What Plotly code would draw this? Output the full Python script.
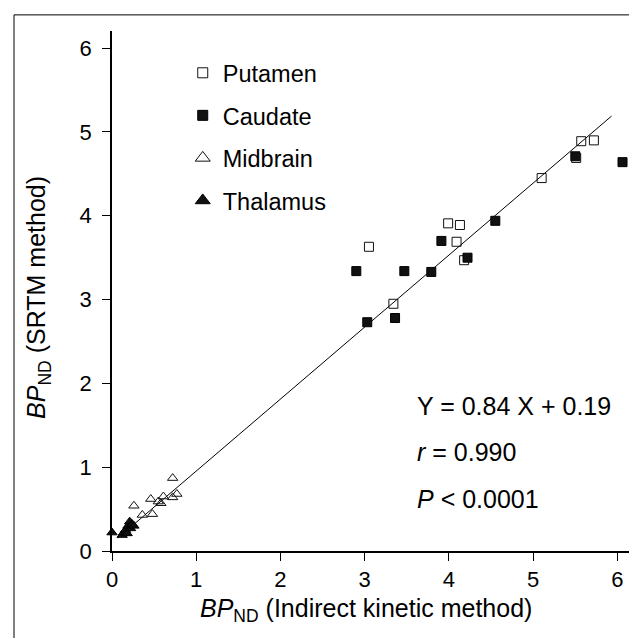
import plotly.graph_objects as go

FONT = "Liberation Sans, Arial, Helvetica, sans-serif"

# ---- data ----
putamen_x = [3.05, 3.34, 3.99, 4.13, 4.09, 4.18, 5.10, 5.51, 5.57, 5.72]
putamen_y = [3.63, 2.95, 3.91, 3.89, 3.69, 3.47, 4.45, 4.69, 4.89, 4.90]

caudate_x = [2.90, 3.03, 3.36, 3.47, 3.79, 3.91, 4.22, 4.55, 5.50, 6.06]
caudate_y = [3.34, 2.73, 2.78, 3.34, 3.33, 3.70, 3.50, 3.94, 4.71, 4.64]

midbrain_x = [0.26, 0.36, 0.48, 0.46, 0.55, 0.58, 0.61, 0.72, 0.77, 0.72]
midbrain_y = [0.54, 0.43, 0.44, 0.62, 0.59, 0.57, 0.65, 0.64, 0.68, 0.87]

thalamus_x = [0.00, 0.12, 0.14, 0.16, 0.18, 0.19, 0.21, 0.22, 0.24, 0.26]
thalamus_y = [0.22, 0.19, 0.22, 0.25, 0.21, 0.30, 0.35, 0.27, 0.32, 0.30]

# regression line endpoints as drawn
fit_x = [0.07, 5.93]
fit_y = [0.155, 5.19]

tick_vals = [0, 1, 2, 3, 4, 5, 6]
tick_text = ["0", "1", "2", "3", "4", "5", "6"]

stats_lines = ["Y = 0.84 X + 0.19", "<i>r</i> = 0.990", "<i>P</i> < 0.0001"]

fig = go.Figure()

fig.add_trace(go.Scatter(x=fit_x, y=fit_y, mode="lines",
                         line=dict(color="black", width=1),
                         showlegend=False, hoverinfo="skip"))

series = [
    ("Putamen", putamen_x, putamen_y, "square-open", 9, 10),
    ("Caudate", caudate_x, caudate_y, "square", 9, 10),
    ("Midbrain", midbrain_x, midbrain_y, "triangle-up-open", 9, 13),
    ("Thalamus", thalamus_x, thalamus_y, "triangle-up", 9, 13),
]
for i, (name, xs, ys, sym, sz, lsz) in enumerate(series):
    fig.add_trace(go.Scatter(
        x=xs, y=ys, mode="markers", name=name, showlegend=False,
        cliponaxis=False,
        marker=dict(symbol=sym, size=sz, color="#111111",
                    line=dict(color="black", width=1)),
    ))
    # legend-only entry (larger legend symbol, as in the reference)
    fig.add_trace(go.Scatter(
        x=[None], y=[None], mode="markers", name=name, legendgroup=f"g{i}",
        marker=dict(symbol=sym, size=lsz, color="#111111",
                    line=dict(color="black", width=1)),
    ))

axis_common = dict(
    showline=True, linecolor="black", linewidth=1.5,
    ticks="outside", ticklen=8, tickwidth=1, tickcolor="black",
    showgrid=False, zeroline=False,
    tickfont=dict(family=FONT, size=22, color="black"),
    tickvals=tick_vals, ticktext=tick_text,
)

fig.update_xaxes(range=[0, 6.22], ticklabelstandoff=0, **axis_common)
fig.update_yaxes(range=[0, 6.205], ticklabelstandoff=6, **axis_common)

annotations = [
    dict(xref="paper", yref="paper", x=0.485, y=-0.114, xanchor="center", yanchor="middle",
         text="<i>BP</i><sub>ND</sub> (Indirect kinetic method)", showarrow=False,
         font=dict(family=FONT, size=25, color="black")),
    dict(xref="paper", yref="paper", x=-0.14, y=0.488, xanchor="center", yanchor="middle",
         textangle=-90,
         text="<i>BP</i><sub>ND</sub> (SRTM method)", showarrow=False,
         font=dict(family=FONT, size=25, color="black")),
]
stat_y = [1.73, 1.18, 0.62]
for t, yy in zip(stats_lines, stat_y):
    annotations.append(dict(xref="x", yref="y", x=3.60, y=yy, xanchor="left", yanchor="middle",
                            text=t, showarrow=False,
                            font=dict(family=FONT, size=25, color="black")))

fig.update_layout(
    width=637, height=638,
    margin=dict(l=104, r=9, t=23, b=95),
    paper_bgcolor="white", plot_bgcolor="white",
    showlegend=True,
    legend=dict(x=0.135, y=0.9615, xanchor="left", yanchor="top",
                font=dict(family=FONT, size=23.5, color="black"),
                tracegroupgap=9, bgcolor="rgba(0,0,0,0)", itemwidth=30),
    annotations=annotations,
    shapes=[
        dict(type="line", xref="paper", yref="paper", x0=-0.187, x1=1.02, y0=1.031, y1=1.031,
             line=dict(color="black", width=1)),
        dict(type="line", xref="paper", yref="paper", x0=-0.187, x1=-0.187, y0=-0.19, y1=1.031,
             line=dict(color="black", width=1)),
    ],
)

fig.write_html("out.html")
